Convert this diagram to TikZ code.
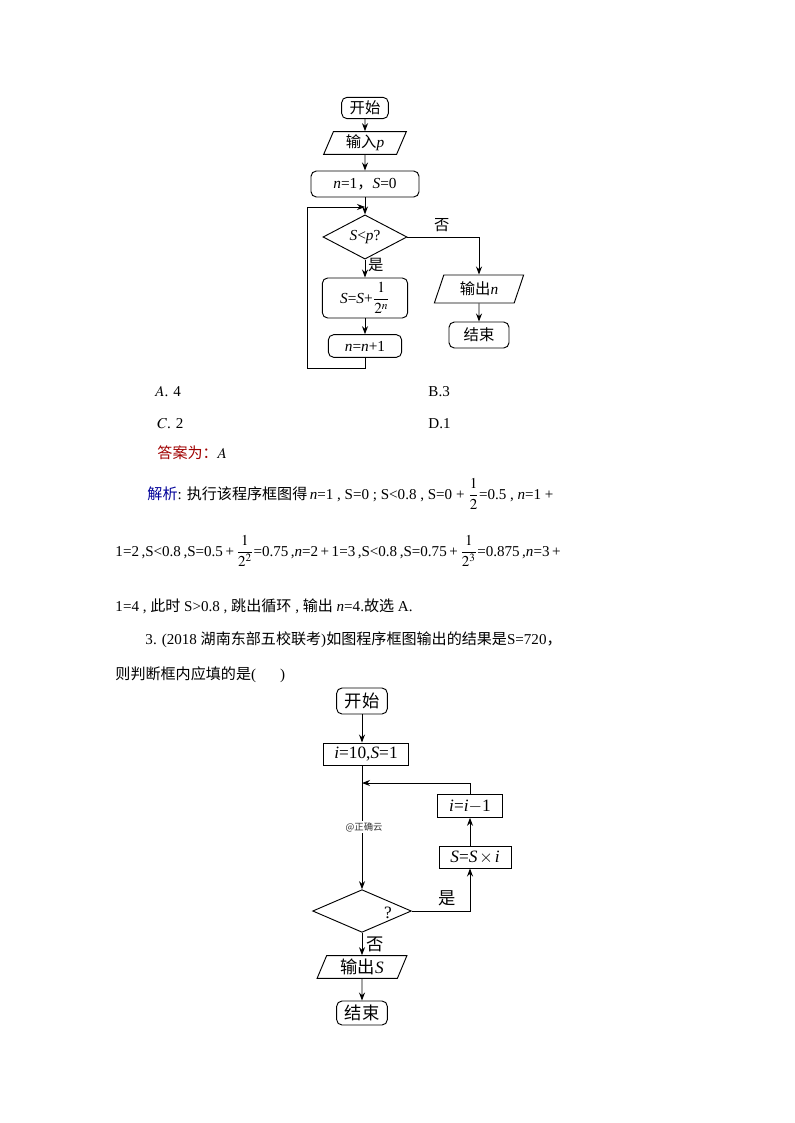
\documentclass[tikz,border=0pt]{standalone}
\usepackage{mathptmx}
\usepackage{fontspec}
\setmainfont{Liberation Serif}
\newfontfamily\cjk{Noto Sans CJK SC}
\usetikzlibrary{shapes.geometric,arrows.meta}
\newcommand{\zh}[1]{{\cjk #1}}
\definecolor{ansred}{HTML}{A00000}
\definecolor{jxblue}{HTML}{000099}

\begin{document}
\begin{tikzpicture}[x=0.75pt, y=-0.75pt, line width=0.7pt,
	>={Stealth[length=6pt,width=4.5pt]},
	term/.style={draw, rounded corners=4pt, inner sep=0pt},
	proc/.style={draw, inner sep=0pt},
	io/.style={draw, trapezium, trapezium left angle=70, trapezium right angle=110,
		trapezium stretches=true, inner sep=0pt},
	cond/.style={draw, diamond, inner sep=0pt},
	chartA/.style={font=\fontsize{11.5}{13}\selectfont},
	chartB/.style={font=\fontsize{13}{15}\selectfont},
	txt/.style={anchor=base west, inner sep=0pt, font=\fontsize{11.3}{13}\selectfont}]
	%%%%% PAGE %%%%%
	\fill[white] (0,0) rectangle (794,1123);
	\useasboundingbox (0,0) rectangle (794,1123);
	
	%%%%% FIRST CHART %%%%%
	\begin{scope}[chartA]
		\node[term, minimum width=35pt, minimum height=16pt] (start1) at (365,108) {\zh{开始}};
		\node[io, minimum width=62pt, minimum height=17pt] (in1) at (365,143) {\zh{输入}\textit{p}};
		\node[term, minimum width=81pt, minimum height=19.5pt] (init1) at (365,184) {\textit{n}=1\zh{，}\textit{S}=0};
		\node[cond, minimum width=63pt, minimum height=25.5pt] (dec1) at (365,237) {\textit{S}<\textit{p}?};
		\node[term, minimum width=64pt, minimum height=30pt] (sum1) at (365,298) {\textit{S}=\textit{S}+${\displaystyle\frac{1}{2^n}}$};
		\node[term, minimum width=55pt, minimum height=17pt] (inc1) at (365,346) {\textit{n}=\textit{n}+1};
		\node[io, minimum width=67pt, minimum height=21pt] (out1) at (479,289) {\zh{输出}\textit{n}};
		\node[term, minimum width=45pt, minimum height=19.5pt] (end1) at (479,335) {\zh{结束}};
		
		\coordinate (loopb1) at (307,368);
		\coordinate (loopt1) at (307,207);
		
		\draw[->] (start1) -- (in1);
		\draw[->] (in1) -- (init1);
		\draw[->] (init1) -- (dec1);
		\draw[->] (dec1) -- node[right, pos=0.3, inner sep=2pt] (yes1) {\zh{是}} (sum1);
		\draw[->] (sum1) -- (inc1);
		\draw[->] (dec1.east) -| node[above, pos=0.24] (no1) {\zh{否}} (out1.north);
		\draw[->] (out1) -- (end1);
		\draw[->] (inc1.south) |- (loopb1) -- (loopt1) -- (loopt1 -| init1.south);
	\end{scope}
	
	%%%%% TEXT %%%%%
	\node[txt] (optA) at (155,396) {$A$. 4};
	\node[txt] (optB) at (428,396) {B.3};
	\node[txt] (optC) at (157,428) {$C$. 2};
	\node[txt] (optD) at (428,428) {D.1};
	\node[txt] (ans) at (157,458) {{\color{ansred}\zh{答案为：}}$A$};
	
	\node[txt] (sol1) at (147,499) {{\color{jxblue}\zh{解析}}: \zh{执行该程序框图得}\,\textit{n}=1 , S=0 ; S<0.8 , S=0 + ${\displaystyle\frac{1}{2}}$=0.5 , \textit{n}=1 +};
	\node[txt] (sol2) at (115,556) {1=2\,,S<0.8\,,S=0.5\,+\,${\displaystyle\frac{1}{2^2}}$=0.75\,,\textit{n}=2\,+\,1=3\,,S<0.8\,,S=0.75\,+\,${\displaystyle\frac{1}{2^3}}$=0.875\,,\textit{n}=3\,+};
	\node[txt] (sol3) at (115,611) {1=4 , \zh{此时} S>0.8 , \zh{跳出循环} , \zh{输出} \textit{n}=4.\zh{故选} A.};
	
	\node[txt] (q3a) at (145,644) {3. (2018 \zh{湖南东部五校联考})\zh{如图程序框图输出的结果是}S=720\zh{，}};
	\node[txt] (q3b) at (115,679) {\zh{则判断框内应填的是}(\hspace{18pt})};
	
	%%%%% SECOND CHART %%%%%
	\begin{scope}[chartB]
		\node[term, minimum width=38pt, minimum height=19.5pt] (start2) at (362,701) {\zh{开始}};
		\node[proc, minimum width=64pt, minimum height=16.5pt] (init2) at (366,754) {\textit{i}=10,\textit{S}=1};
		\node[cond, minimum width=74pt, minimum height=32pt] (dec2) at (362,911) {};
		\node[inner sep=0pt] (qm2) at (388,913) {?};
		\node[proc, minimum width=54pt, minimum height=16.5pt] (mul2) at (475,857) {\textit{S}=\textit{S}$\,\times\,$\textit{i}};
		\node[proc, minimum width=49pt, minimum height=17pt] (subi2) at (470,806) {\textit{i}=\textit{i}$-$1};
		\node[io, minimum width=67.5pt, minimum height=17pt] (out2) at (362,967) {\zh{输出}\textit{S}};
		\node[term, minimum width=38pt, minimum height=18pt] (end2) at (362,1013) {\zh{结束}};
		
		\coordinate (back2) at (362,783);
		
		\draw[->] (start2) -- (start2 |- init2.north);
		\draw[->] (start2 |- init2.south) -- (dec2.north);
		\draw[->] (subi2.north) |- (back2);
		\draw[->] (mul2.north -| subi2) -- (subi2.south);
		\draw[->] (dec2.east) -| node[above, pos=0.3] (yes2) {\zh{是}} (mul2.south -| subi2);
		\draw[->] (dec2) -- node[right, inner sep=3pt] (no2) {\zh{否}} (out2);
		\draw[->] (out2) -- (end2);
		
		\node[fill=white, inner sep=1pt, font=\cjk\fontsize{7}{8}\selectfont, text=black!80] (mark2) at (364,827) {@正确云};
	\end{scope}
\end{tikzpicture}
\end{document}
